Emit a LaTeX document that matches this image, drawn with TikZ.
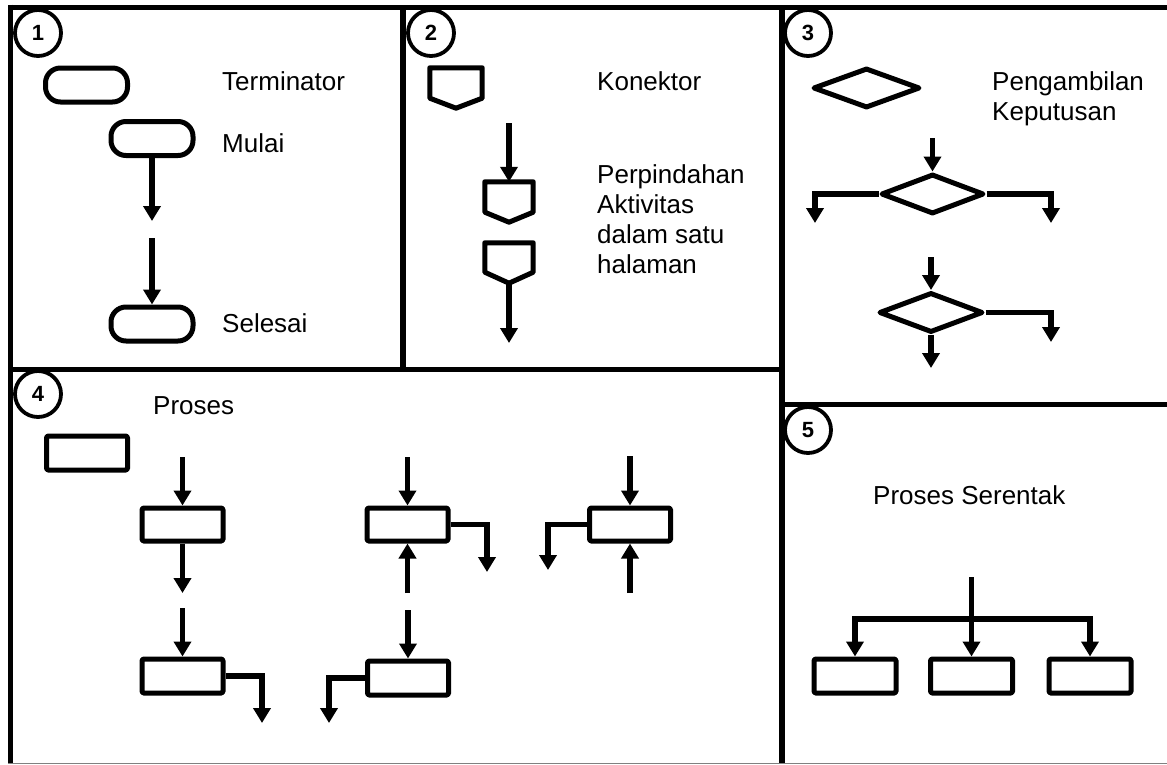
\documentclass[tikz,border=0pt]{standalone}
\usepackage{fontspec}
\setmainfont{Liberation Sans}
\usetikzlibrary{arrows.meta,shapes.geometric,calc}
\begin{document}
\begin{tikzpicture}[x=1pt,y=-1pt,
  frame/.style={line width=5.6pt},
  shp/.style={draw,line width=5pt,inner sep=0pt,line join=round},
  term/.style={shp,rectangle,rounded corners=15pt,minimum width=82pt,minimum height=34pt},
  proc/.style={shp,rectangle,rounded corners=1.5pt,minimum width=81pt,minimum height=33pt},
  dec/.style={shp,diamond,minimum width=#1,minimum height=40pt},
  conbox/.style={rectangle,inner sep=0pt,minimum height=40pt,minimum width=#1},
  conline/.style={line width=5pt,line join=round},
  arr/.style={line width=5.2pt,line join=miter,-{Triangle[width=17pt,length=15pt]}},
  num/.style={circle,draw,line width=3.8pt,minimum size=46pt,inner sep=0pt,font=\bfseries\fontsize{22}{24}\selectfont},
  lbl/.style={anchor=base west,inner sep=0pt,font=\fontsize{26}{30}\selectfont}]
\useasboundingbox (0,0) rectangle (1167,764);
\fill[white] (0,0) rectangle (1167,764);

% frame
\draw[frame] (10.5,7.5) -- (1167,7.5);
\draw[frame] (10.5,4.7) -- (10.5,764);
\draw[frame] (403,7.5) -- (403,369.5);
\draw[frame] (10.5,369.5) -- (782,369.5);
\draw[frame] (782,7.5) -- (782,764);
\draw[frame] (782,404.5) -- (1167,404.5);
\draw[gray,line width=1.2pt] (8,763.4) -- (1167,763.4);

% numbers
\node[num] (n1) at (38,33) {1};
\node[num] (n2) at (431,33) {2};
\node[num] (n3) at (808,33) {3};
\node[num] (n4) at (38,394) {4};
\node[num] (n5) at (808,430) {5};

% panel 1
\node[term] (t0) at (86.5,85) {};
\node[lbl] (lt0) at (222,90) {Terminator};
\node[term] (mulai) at (152,138.5) {};
\node[lbl] (lmulai) at (222,152) {Mulai};
\node[term] (selesai) at (152,324) {};
\node[lbl] (lselesai) at (222,332) {Selesai};
\coordinate (p1a) at (152,221);
\coordinate (p1b) at (152,238);
\draw[arr] (mulai) -- (p1a);
\draw[arr] (p1b) -- (selesai);

% panel 2
\node[conbox=52pt] (k1) at (456,88) {};
\draw[conline] (k1.north west) -- (k1.north east) -- ([yshift=10pt]k1.south east) -- (k1.south) -- ([yshift=10pt]k1.south west) -- cycle;
\node[lbl] (lk1) at (597,90) {Konektor};
\node[conbox=48pt] (k2) at (509,202) {};
\draw[conline] (k2.north west) -- (k2.north east) -- ([yshift=10pt]k2.south east) -- (k2.south) -- ([yshift=10pt]k2.south west) -- cycle;
\node[conbox=48pt] (k3) at (509,263) {};
\draw[conline] (k3.north west) -- (k3.north east) -- ([yshift=11pt]k3.south east) -- (k3.south) -- ([yshift=11pt]k3.south west) -- cycle;
\coordinate (p2a) at (509,123);
\coordinate (p2b) at (509,343);
\draw[arr] (p2a) -- (k2.north);
\draw[arr] (k3.south) -- (p2b);
\node[lbl] (lk2a) at (597,183) {Perpindahan};
\node[lbl] (lk2b) at (597,213) {Aktivitas};
\node[lbl] (lk2c) at (597,243) {dalam satu};
\node[lbl] (lk2d) at (597,273) {halaman};

% panel 3
\node[dec=107pt] (d0) at (866.5,88) {};
\node[lbl] (ld0a) at (992,90) {Pengambilan};
\node[lbl] (ld0b) at (992,120) {Keputusan};
\node[dec=103pt] (d1) at (932.5,194) {};
\coordinate (p3a) at (932.5,138);
\coordinate (p3l) at (815,223);
\coordinate (p3r) at (1051,223);
\draw[arr] (p3a) -- (d1.north);
\draw[arr] (d1.west) -| (p3l);
\draw[arr] (d1.east) -| (p3r);
\node[dec=104pt] (d2) at (931,312.5) {};
\coordinate (p3b) at (931,257);
\coordinate (p3c) at (1051,342);
\coordinate (p3d) at (931,368);
\draw[arr] (p3b) -- (d2.north);
\draw[arr] (d2.east) -| (p3c);
\draw[arr] (d2.south) -- (p3d);

% panel 4
\node[lbl] (lproses) at (153,414) {Proses};
\node[proc,minimum height=34pt] (r0) at (87,453) {};
\node[proc] (a1) at (182.5,524.5) {};
\node[proc,minimum height=34pt] (a2) at (182.5,676) {};
\coordinate (p4a) at (182.5,457);
\coordinate (p4b) at (182.5,593);
\coordinate (p4c) at (182.5,608);
\coordinate (p4d) at (262,723);
\draw[arr] (p4a) -- (a1.north);
\draw[arr] (a1.south) -- (p4b);
\draw[arr] (p4c) -- (a2.north);
\draw[arr] (a2.east) -| (p4d);

\node[proc] (b1) at (407.5,524.5) {};
\node[proc,minimum height=34pt] (b2) at (408,678) {};
\coordinate (p4e) at (407.5,457);
\coordinate (p4f) at (487,572);
\coordinate (p4g) at (407.5,593);
\coordinate (p4h) at (408,610);
\coordinate (p4i) at (329,723);
\draw[arr] (p4e) -- (b1.north);
\draw[arr] (b1.east) -| (p4f);
\draw[arr] (p4g) -- (b1.south);
\draw[arr] (p4h) -- (b2.north);
\draw[arr] (b2.west) -| (p4i);

\node[proc] (c1) at (630,524.5) {};
\coordinate (p4j) at (630,456);
\coordinate (p4k) at (548,570);
\coordinate (p4l) at (630,593);
\draw[arr] (p4j) -- (c1.north);
\draw[arr] (c1.west) -| (p4k);
\draw[arr] (p4l) -- (c1.south);

% panel 5
\node[lbl] (lserentak) at (873,504) {Proses Serentak};
\node[proc,minimum width=82pt,minimum height=34pt] (s1) at (855,676) {};
\node[proc,minimum width=82pt,minimum height=34pt] (s2) at (971.5,676) {};
\node[proc,minimum width=82pt,minimum height=34pt] (s3) at (1090,676) {};
\coordinate (p5a) at (971.5,577);
\coordinate (p5b) at (971.5,619);
\draw[arr] (p5a) -- (s2.north);
\draw[arr] (p5b) -| (s1.north);
\draw[arr] (p5b) -| (s3.north);
\end{tikzpicture}
\end{document}
